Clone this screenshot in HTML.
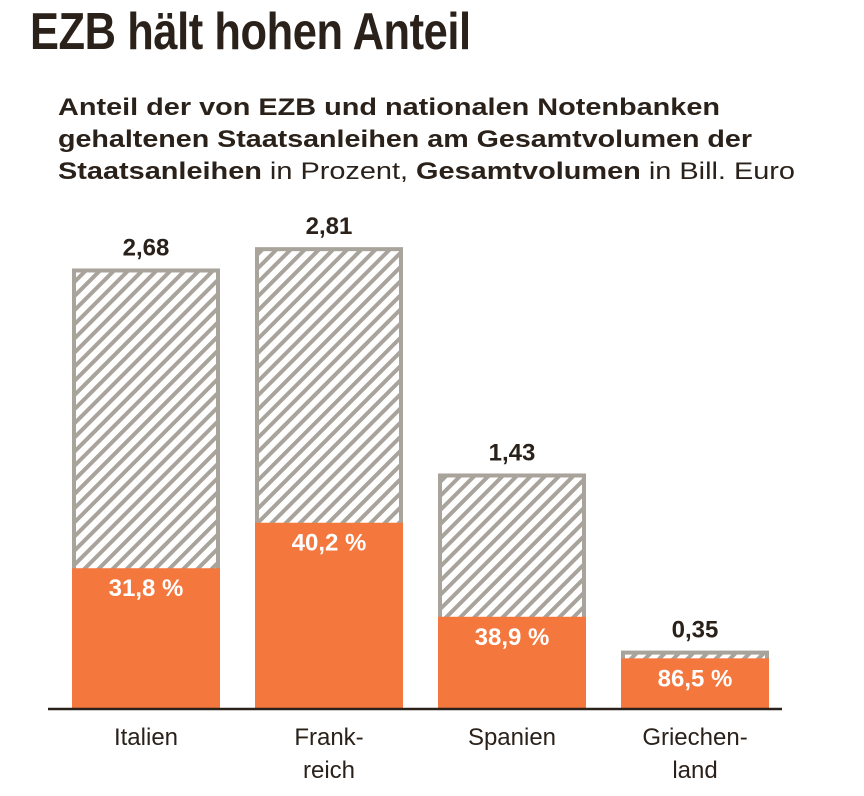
<!DOCTYPE html>
<html><head><meta charset="utf-8"><style>
body{margin:0;background:#fff;width:864px;height:796px;overflow:hidden;font-family:"Liberation Sans",sans-serif;color:#2a211a}
h1{position:absolute;left:30px;top:2px;margin:0;font-size:52px;font-weight:bold;font-family:"Liberation Sans Narrow","Liberation Sans",sans-serif;transform:scaleX(0.835);transform-origin:left top;letter-spacing:-0.5px;white-space:nowrap}
</style></head><body>
<h1>EZB hält hohen Anteil</h1>
<svg width="864" height="200" style="position:absolute;left:0;top:0" font-size="24" fill="#2a211a">
<text x="58" y="115" textLength="662" lengthAdjust="spacingAndGlyphs" font-weight="bold">Anteil der von EZB und nationalen Notenbanken</text>
<text x="58" y="147" textLength="694" lengthAdjust="spacingAndGlyphs" font-weight="bold">gehaltenen Staatsanleihen am Gesamtvolumen der</text>
<text x="58" y="179" textLength="737" lengthAdjust="spacingAndGlyphs"><tspan font-weight="bold">Staatsanleihen</tspan> in Prozent, <tspan font-weight="bold">Gesamtvolumen</tspan> in Bill. Euro</text>
</svg>
<svg id="chart" width="864" height="796" style="position:absolute;left:0;top:0">
<defs><pattern id="hatch" patternUnits="userSpaceOnUse" width="10" height="10" patternTransform="rotate(45)">
<rect width="10" height="10" fill="#fff"/><rect width="4" height="10" fill="#a8a39b"/></pattern></defs>
</svg>
<script>
const categories=[["Italien"],["Frank-","reich"],["Spanien"],["Griechen-","land"]];
const totals=[2.68,2.81,1.43,0.35];
const totalLabels=["2,68","2,81","1,43","0,35"];
const shares=[31.8,40.2,38.9,86.5];
const shareLabels=["31,8 %","40,2 %","38,9 %","86,5 %"];
const svg=document.getElementById('chart');
const NS='http://www.w3.org/2000/svg';
const base=708,scale=164,x0=72,step=183,bw=148;
const y=v=>base-v*scale;
function el(t,a){const e=document.createElementNS(NS,t);for(const k in a)e.setAttribute(k,a[k]);svg.appendChild(e);return e;}
totals.forEach((t,i)=>{
 const x=x0+i*step,top=y(t),h=base-top;
 const r=el('rect',{x:x+2,y:top+2,width:bw-4,height:h-2,fill:'url(#hatch)',stroke:'#a8a39b','stroke-width':4});
 
 
 const oh=h*shares[i]/100;
 const o=el('rect',{x:x,y:base-oh,width:bw,height:oh,fill:'#f4773d'});
 
 
 const tl=el('text',{x:x+bw/2,y:top-13,'text-anchor':'middle','font-size':24,'font-weight':'bold',fill:'#2a211a'});
 tl.textContent=totalLabels[i];
 
 
 const sl=el('text',{x:x+bw/2,y:base-oh+28,'text-anchor':'middle','font-size':24,'font-weight':'bold',fill:'#fff'});
 sl.textContent=shareLabels[i];
 
 
 categories[i].forEach((c,j)=>{
  const cl=el('text',{x:x+bw/2,y:745+j*33,'text-anchor':'middle','font-size':24,fill:'#2a211a'});
  cl.textContent=c;
  
  
 });
});
const ax=el('line',{x1:48,x2:782,y1:base+1,y2:base+1,stroke:'#2a211a','stroke-width':2.5});


</script>
</body></html>
